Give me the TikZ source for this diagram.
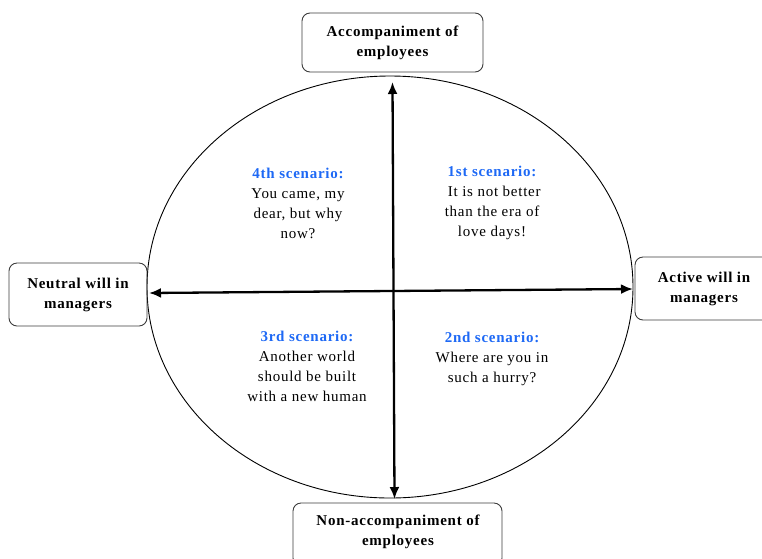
\documentclass[tikz,border=0pt]{standalone}
\usepackage{fontspec}
\setmainfont[LetterSpace=5]{Liberation Serif}
\usetikzlibrary{arrows.meta,shapes.geometric}
\definecolor{scblue}{RGB}{30,105,245}
\definecolor{boxgray}{RGB}{60,60,60}
\tikzset{
  every node/.style={font=\fontsize{15}{20}\selectfont},
  labelbox/.style={draw=boxgray, line width=0.9pt, rounded corners=8pt, align=center, inner sep=0pt, font=\fontsize{15}{20}\selectfont\bfseries},
  scen/.style={align=center, inner sep=0pt},
  axis/.style={line width=2.3pt, {Latex[length=12pt,width=10pt]}-{Latex[length=12pt,width=10pt]}},
}
\newcommand{\sctitle}[1]{{\color{scblue}\bfseries #1}}
\begin{document}
\begin{tikzpicture}[x=1pt,y=-1pt]
\useasboundingbox (0,0) rectangle (762,558);
% ellipse
\node[draw, ellipse, line width=0.9pt, inner sep=0pt, minimum width=486pt, minimum height=422pt] (E) at (390,287) {};
% boxes
\node[labelbox, minimum width=181pt, minimum height=59pt] (top) at (392.5,42.5) {Accompaniment of\\employees};
\node[labelbox, minimum width=138pt, minimum height=63pt] (left) at (78,294.5) {Neutral will in\\managers};
\node[labelbox, minimum width=138pt, minimum height=63pt] (right) at (704,288.5) {Active will in\\managers};
\node[labelbox, minimum width=209pt, minimum height=63pt] (bottom) at (397.5,534.5) {};
\node[align=center, inner sep=0pt, font=\fontsize{15}{20}\selectfont\bfseries] (bottomtxt) at (398,532) {Non-accompaniment of\\employees};
% axes
\coordinate (vt) at (392.5,82);
\coordinate (vb) at (394.5,499);
\coordinate (hl) at (149,293);
\coordinate (hr) at (633,289);
\draw[axis] (vb) -- (vt);
\draw[axis] (hl) -- (hr);
% scenarios
\node[scen] (q4) at (298,203) {\sctitle{4th scenario:}\\You came, my\\dear, but why\\now?};
\node[scen] (q1) at (492,203) {\sctitle{1st scenario:}\\\ It is not better\\than the era of\\love days!};
\node[scen] (q3) at (307,366) {\sctitle{3rd scenario:}\\Another world\\should be built\\with a new human};
\node[scen] (q2) at (492,359) {\sctitle{2nd scenario:}\\Where are you in\\such a hurry?};
\end{tikzpicture}
\end{document}
